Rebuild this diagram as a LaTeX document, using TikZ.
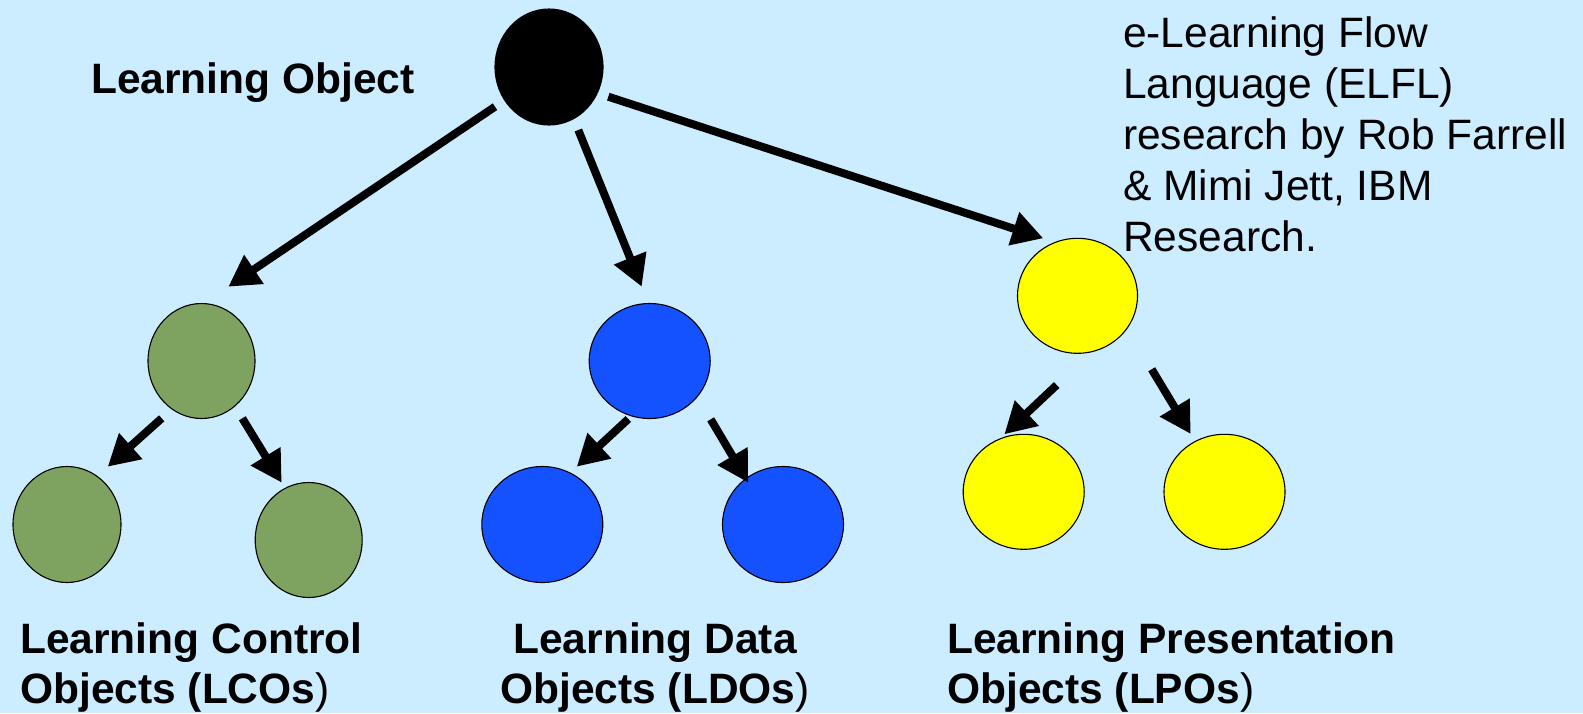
\documentclass[tikz,border=0pt]{standalone}
\usepackage{fontspec}
\setmainfont{Liberation Sans}
\usetikzlibrary{shapes.geometric,arrows.meta,calc}
\definecolor{bgblue}{HTML}{CCECFF}
\definecolor{lcogreen}{HTML}{7EA25F}
\definecolor{ldoblue}{HTML}{1452FF}
\definecolor{lpoyellow}{HTML}{FFFF00}
\begin{document}
\begin{tikzpicture}[x=1pt,y=-1pt,
  obj/.style={ellipse, draw=black, line width=1.1pt, inner sep=0pt},
  lo/.style={obj, minimum width=108pt, minimum height=116pt},
  arr/.style={line width=8pt, -{Triangle[length=31pt,width=33pt]}},
  bigtext/.style={inner sep=0pt, font=\fontsize{42.5}{51}\selectfont},
  boldtext/.style={inner sep=0pt, font=\fontsize{42.5}{50.2}\selectfont\bfseries},
]
% page and background
\fill[bgblue] (0,0) rectangle (1583,713);
\useasboundingbox (0,0) rectangle (1583,713);

% root learning object
\node[lo, fill=black] (root) at (549,67) {};

% control objects
\node[lo, fill=lcogreen, minimum width=107pt, minimum height=115pt] (gp) at (201.5,361) {};
\node[lo, fill=lcogreen] (gl) at (67,524.5) {};
\node[lo, fill=lcogreen, minimum width=107pt, minimum height=115pt] (gr) at (308.7,540) {};

% data objects
\node[lo, fill=ldoblue, minimum width=121pt, minimum height=115pt] (bp) at (649.7,361) {};
\node[lo, fill=ldoblue, minimum width=121pt] (bl) at (542.3,524.5) {};
\node[lo, fill=ldoblue, minimum width=121pt] (br) at (783,524.5) {};

% presentation objects
\node[lo, fill=lpoyellow, minimum width=120pt, minimum height=115pt] (yp) at (1077.5,295.8) {};
\node[lo, fill=lpoyellow, minimum width=121pt, minimum height=115pt] (yl) at (1023.7,491.8) {};
\node[lo, fill=lpoyellow, minimum width=121pt, minimum height=115pt] (yr) at (1224.5,491.8) {};

% arrows from the root
\draw[arr] ($(root)+(-54,39.7)$) -- ($(gp)+(26.8,-74.3)$);
\draw[arr] ($(root)+(29.3,63)$) -- ($(bp)+(-8,-74.3)$);
\draw[arr] ($(root)+(59.3,29.7)$) -- ($(yp)+(-34.2,-57.5)$);

% arrows to the leaves
\draw[arr] ($(gp)+(-39.8,57.3)$) -- ($(gl)+(40.7,-57.8)$);
\draw[arr] ($(gp)+(40.8,57.3)$) -- ($(gr)+(-27,-57.3)$);
\draw[arr] ($(bp)+(-21.4,58)$) -- ($(bl)+(34.4,-57.8)$);
\draw[arr] ($(bp)+(61,58.3)$) -- ($(br)+(-34.7,-41.8)$);
\draw[arr] ($(yp)+(-20.8,89.2)$) -- ($(yl)+(-19.4,-57.5)$);
\draw[arr] ($(yp)+(74.2,73.5)$) -- ($(yr)+(-33.8,-57.8)$);

% labels
\node[boldtext, anchor=base west] (lolabel) at (91,93) {Learning Object};
\node[boldtext, anchor=base west] (lcolabel) at (20,653.3)
  {\begin{tabular}[t]{@{}l@{}}Learning Control\\Objects (LCOs\textmd{)}\end{tabular}};
\node[boldtext, anchor=base] (ldolabel) at (655,653.3)
  {\begin{tabular}[t]{@{}c@{}}Learning Data\\Objects (LDOs\textmd{)}\end{tabular}};
\node[boldtext, anchor=base west] (lpolabel) at (947,653.3)
  {\begin{tabular}[t]{@{}l@{}}Learning Presentation\\Objects (LPOs\textmd{)}\end{tabular}};
\node[bigtext, anchor=base west] (credit) at (1123,47)
  {\begin{tabular}[t]{@{}l@{}}e-Learning Flow\\Language (ELFL)\\research by Rob Farrell\\\& Mimi Jett, IBM\\Research.\end{tabular}};
\end{tikzpicture}
\end{document}
